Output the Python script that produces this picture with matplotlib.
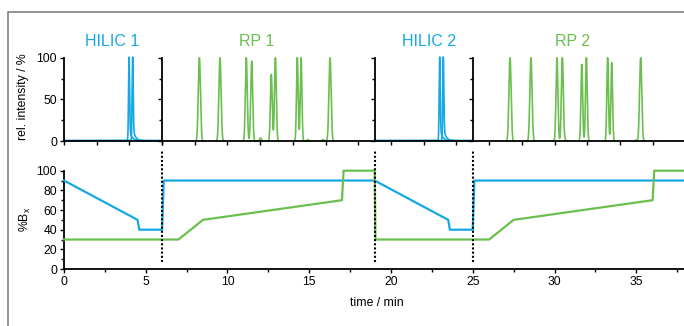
import numpy as np
import matplotlib
matplotlib.use("Agg")
import matplotlib.pyplot as plt
from matplotlib.ticker import MultipleLocator, NullFormatter
from matplotlib.patches import Rectangle
import matplotlib.transforms as mtransforms

plt.rcParams['font.family'] = ['Liberation Sans', 'DejaVu Sans']

BLUE = '#16a8e2'
GREEN = '#6bbf4e'

# ---------------- data ----------------
# gradient programmes (%B_x)
hilic_time = [0, 4.5, 4.6, 6.0, 6.1, 19.0, 23.5, 23.6, 25.0, 25.1, 38]
hilic_B = [90, 50, 40, 40, 90, 90, 50, 40, 40, 90, 90]
rp_time = [0, 7.0, 8.5, 17.0, 17.1, 19.0, 19.05, 26.0, 27.5, 36.0, 36.1, 38]
rp_B = [30, 30, 50, 70, 100, 100, 30, 30, 50, 70, 100, 100]

# segments of the 2D run
segment_names = ["HILIC 1", "RP 1", "HILIC 2", "RP 2"]
segment_kind = ["HILIC", "RP", "HILIC", "RP"]
segment_start = [0, 6, 19, 25]
segment_end = [6, 19, 25, 38]
switch_times = [6, 19, 25]

# chromatographic peaks (retention time / min, relative intensity / %, width / min)
hilic_peak_rt = [3.98, 4.20, 22.98, 23.20]
hilic_peak_height = [100, 100, 100, 100]
rp_peak_rt = [8.28, 9.54, 11.15, 11.48, 12.02, 12.68, 12.93, 14.27, 14.50, 14.92, 15.84, 16.27,
              27.28, 28.56, 30.15, 30.48, 30.64, 31.67, 31.95, 33.25, 33.50, 35.00, 35.27]
rp_peak_height = [100, 100, 100, 96, 4, 80, 100, 100, 100, 2, 2, 100,
                  100, 100, 100, 100, 2, 92, 100, 100, 94, 1.5, 100]
rp_peak_width = [0.066, 0.066, 0.058, 0.058, 0.06, 0.055, 0.055, 0.05, 0.05, 0.06, 0.06, 0.066,
                 0.066, 0.066, 0.058, 0.058, 0.06, 0.052, 0.052, 0.05, 0.05, 0.06, 0.066]

# ---------------- figure ----------------
fig = plt.figure(figsize=(6.84, 3.26), dpi=100)

L, W = 64 / 684, 621.3 / 684
XMAX = 38.0

# frame around figure
fig.patches.append(Rectangle((8 / 684, -0.1), 1.2, (326 - 12) / 326 + 0.1,
                             transform=fig.transFigure, fill=False,
                             edgecolor='#808080', linewidth=1.2, zorder=0))

tick_kw = dict(direction='out', width=1.0, colors='black', labelsize=8.7, pad=2)

# bottom: gradient programme
axb = fig.add_axes([L, 0.1748, W, 0.3016])
axb.plot(hilic_time, hilic_B, color=BLUE, lw=1.6, clip_on=False, zorder=3)
axb.plot(rp_time, rp_B, color=GREEN, lw=1.6, clip_on=False, zorder=3)
axb.set_xlim(0, XMAX)
axb.set_ylim(0, 100)
axb.xaxis.set_major_locator(MultipleLocator(5))
axb.xaxis.set_minor_locator(MultipleLocator(2.5))
axb.yaxis.set_major_locator(MultipleLocator(20))
axb.yaxis.set_minor_locator(MultipleLocator(10))
axb.tick_params(which='major', length=3, **tick_kw)
axb.tick_params(which='minor', length=2, direction='out', width=1.0)
for s in ['top', 'right']:
    axb.spines[s].set_visible(False)
for s in ['left', 'bottom']:
    axb.spines[s].set_linewidth(1.3)
for t in switch_times:
    axb.plot([t, t], [7, 121], color='black', lw=1.5, ls=(0, (1, 1)),
             clip_on=False, zorder=4)

# top: chromatograms
top_b, top_h = 0.5666, 0.2564
for name, kind, t0, t1 in zip(segment_names, segment_kind, segment_start, segment_end):
    ax = fig.add_axes([L + W * t0 / XMAX, top_b, W * (t1 - t0) / XMAX, top_h])
    t = np.linspace(t0, t1, 4000)
    if kind == "HILIC":
        for rt, h in zip(hilic_peak_rt, hilic_peak_height):
            if t0 <= rt <= t1:
                d = t - rt
                core = np.exp(-d ** 2 / (2 * 0.032 ** 2))
                tail = np.where(d >= 0, np.exp(-np.clip(d, 0, None) / 0.14), core)
                y = h * (0.84 * core + 0.16 * tail) + 0.8
                ax.plot(t, y, color=BLUE, lw=1.2, clip_on=False, zorder=1)
    else:
        y = np.zeros_like(t)
        for rt, h, w in zip(rp_peak_rt, rp_peak_height, rp_peak_width):
            if t0 <= rt <= t1:
                y += h * np.exp(-(t - rt) ** 2 / (2 * w ** 2))
        mask = y > 0.3
        ax.plot(t, np.where(mask, y, np.nan), color=GREEN, lw=1.2, clip_on=False, zorder=1)
    ax.set_xlim(t0, t1)
    ax.set_ylim(0, 100)
    ax.patch.set_visible(False)
    ax.xaxis.set_major_locator(MultipleLocator(2))
    ax.xaxis.set_major_formatter(NullFormatter())
    ax.yaxis.set_major_locator(MultipleLocator(50))
    ax.yaxis.set_minor_locator(MultipleLocator(25))
    ax.tick_params(which='major', length=3, **tick_kw)
    ax.tick_params(which='minor', length=2, direction='out', width=1.0)
    if t0 != 0:
        ax.yaxis.set_major_formatter(NullFormatter())
    for s in ['top', 'right']:
        ax.spines[s].set_visible(False)
    for s in ['left', 'bottom']:
        ax.spines[s].set_linewidth(1.3)
        ax.spines[s].set_zorder(2.5)

title_x = [2.94, 11.8, 22.3, 31.1]
title_colors = [BLUE, GREEN, BLUE, GREEN]
trans = mtransforms.blended_transform_factory(axb.transData, fig.transFigure)
for name, x, c in zip(segment_names, title_x, title_colors):
    fig.text(x, (326 - 42) / 326, name, transform=trans, color=c, fontsize=11.5,
             ha='center', va='center')

fig.text(23 / 684, (326 - 97) / 326, 'rel. intensity / %', rotation=90,
         ha='center', va='center', fontsize=8.8)
fig.text(25 / 684, (326 - 219) / 326, '%B$_\\mathregular{x}$', rotation=90,
         ha='center', va='center', fontsize=8.8)
fig.text(377 / 684, (326 - 303) / 326, 'time / min', ha='center', va='center', fontsize=8.8)

fig.savefig('out.png', dpi=100)
